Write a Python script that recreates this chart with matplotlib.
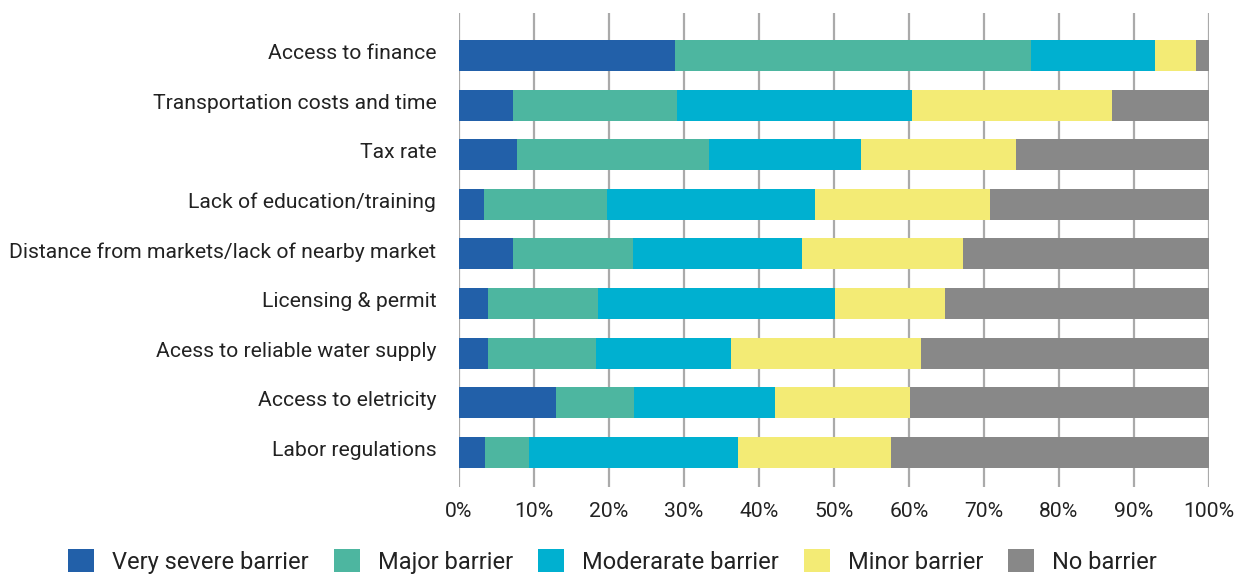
import matplotlib
matplotlib.use("Agg")
import matplotlib.pyplot as plt
import matplotlib.transforms as mtransforms
import numpy as np
from matplotlib.patches import Patch

plt.rcParams['font.family'] = ['Roboto', 'DejaVu Sans']

categories = [
    "Access to finance",
    "Transportation costs and time",
    "Tax rate",
    "Lack of education/training",
    "Distance from markets/lack of nearby market",
    "Licensing & permit",
    "Acess to reliable water supply",
    "Access to eletricity",
    "Labor regulations",
]
series_names = ["Very severe barrier", "Major barrier", "Moderarate barrier", "Minor barrier", "No barrier"]
very_severe = [28.9, 7.3, 7.8, 3.4, 7.3, 3.9, 3.9, 13.0, 3.5]
major       = [47.4, 21.8, 25.6, 16.4, 15.9, 14.7, 14.4, 10.4, 5.9]
moderate    = [16.5, 31.3, 20.2, 27.7, 22.6, 31.6, 18.0, 18.8, 27.8]
minor       = [5.5, 26.7, 20.7, 23.3, 21.4, 14.6, 25.3, 18.0, 20.4]
no_barrier  = [1.7, 12.9, 25.7, 29.2, 32.8, 35.2, 38.4, 39.8, 42.4]
tick_values = [0, 10, 20, 30, 40, 50, 60, 70, 80, 90, 100]
tick_labels = [f"{v}%" for v in tick_values]

colors = ["#2260A9", "#4DB6A0", "#00B0D0", "#F3EB75", "#888888"]
series = [very_severe, major, moderate, minor, no_barrier]

fig = plt.figure(figsize=(12.45, 5.74), dpi=100)
ax = fig.add_axes([458.5/1245, 1-487/574, (1209-458.5)/1245, (487-13)/574])

y = np.arange(len(categories))
left = np.zeros(len(categories))
for vals, c, name in zip(series, colors, series_names):
    v = np.array(vals)
    ax.barh(y, v, left=left, height=0.625, color=c, label=name, zorder=3)
    left += v

fs = 15.2
ax.set_xlim(0, 100)
ax.set_ylim(8 + 0.70, -0.86)
ax.set_xticks(tick_values)
ax.set_xticklabels(tick_labels, fontsize=fs, color='#222222')
ax.set_yticks(y)
ax.set_yticklabels(categories, fontsize=fs, color='#222222')
ax.tick_params(axis='y', length=0, pad=16)
ax.tick_params(axis='x', length=0, pad=11)
offset = mtransforms.ScaledTranslation(0, 4/100, fig.dpi_scale_trans)
for lbl in ax.get_yticklabels():
    lbl.set_transform(lbl.get_transform() + offset)
ax.grid(axis='x', color='#aaaaaa', linewidth=1.6, zorder=0)
for s in ax.spines.values():
    s.set_visible(False)

handles = [Patch(facecolor=c, edgecolor='none', label=n) for c, n in zip(colors, series_names)]
fig.legend(handles=handles, loc='center', bbox_to_anchor=(612.5/1245, 1-561.5/574), ncol=5,
           frameon=False, prop={'size': 17}, labelcolor='#222222',
           handlelength=1.1, handleheight=1.1, handletextpad=0.76, columnspacing=1.06,
           borderpad=0, borderaxespad=0)

fig.savefig("out.png", dpi=100)
